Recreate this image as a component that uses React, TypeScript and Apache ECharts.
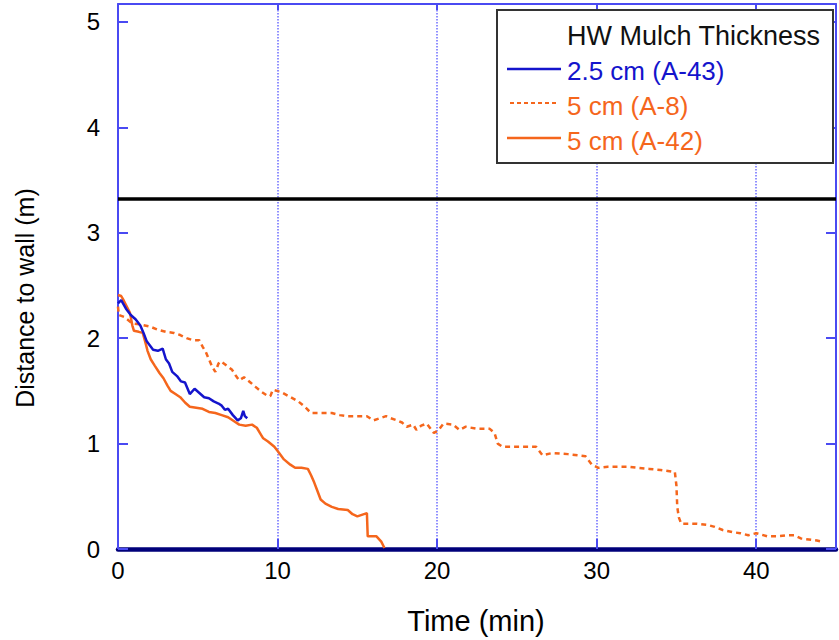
import React, { useEffect, useRef } from "react";
import * as echarts from "echarts";

// ---- Data (time in min, distance to wall in m) ----
const seriesNames = ["2.5 cm (A-43)", "5 cm (A-8)", "5 cm (A-42)"];
const legendTitle = "HW Mulch Thickness";
const xTitle = "Time (min)";
const yTitle = "Distance to wall (m)";
const wallDistance = 3.32;

const a43: [number, number][] = [
  [0, 2.33], [0.2, 2.36], [0.5, 2.28], [0.8, 2.22], [1.1, 2.18], [1.4, 2.12], [1.6, 2.05],
  [1.8, 1.97], [2.0, 1.93], [2.2, 1.89], [2.5, 1.88], [2.8, 1.9], [3.0, 1.8], [3.2, 1.76],
  [3.4, 1.68], [3.7, 1.64], [3.95, 1.59], [4.2, 1.58], [4.5, 1.47], [4.8, 1.52], [5.1, 1.48],
  [5.4, 1.44], [5.7, 1.43], [6.0, 1.4], [6.3, 1.38], [6.5, 1.36], [6.7, 1.32], [6.9, 1.33],
  [7.2, 1.27], [7.5, 1.22], [7.7, 1.24], [7.85, 1.31], [7.95, 1.26], [8.1, 1.24],
];

const a8: [number, number][] = [
  [0, 2.3], [0.05, 2.22], [0.4, 2.2], [0.9, 2.14], [1.4, 2.13], [2.0, 2.11], [2.5, 2.08],
  [3.0, 2.06], [3.5, 2.05], [3.9, 2.03], [4.3, 2.0], [4.7, 1.98], [5.1, 1.98], [5.3, 1.92],
  [5.5, 1.87], [5.7, 1.8], [5.9, 1.73], [6.1, 1.68], [6.3, 1.76], [6.45, 1.78], [6.8, 1.74],
  [7.15, 1.7], [7.4, 1.64], [7.6, 1.6], [7.9, 1.63], [8.3, 1.58], [8.6, 1.54], [9.0, 1.49],
  [9.3, 1.46], [9.55, 1.45], [9.7, 1.51], [10.2, 1.49], [10.7, 1.45], [11.3, 1.4], [11.7, 1.35],
  [12.1, 1.29], [12.8, 1.29], [13.4, 1.29], [13.9, 1.27], [14.4, 1.26], [15.0, 1.26],
  [15.6, 1.26], [16.0, 1.22], [16.4, 1.24], [16.8, 1.26], [17.1, 1.24], [17.5, 1.22],
  [17.8, 1.2], [18.1, 1.16], [18.5, 1.18], [18.7, 1.13], [19.0, 1.17], [19.35, 1.19],
  [19.6, 1.14], [19.8, 1.1], [20.1, 1.13], [20.4, 1.19], [21.0, 1.18], [21.4, 1.13],
  [21.8, 1.16], [22.5, 1.14], [23.3, 1.14], [23.6, 1.1], [23.8, 1.0], [24.1, 0.97],
  [25.0, 0.97], [26.2, 0.97], [26.6, 0.89], [27.2, 0.91], [28.2, 0.9], [29.3, 0.88],
  [29.7, 0.8], [30.1, 0.77], [30.7, 0.78], [31.3, 0.78], [32.0, 0.78], [32.6, 0.77],
  [33.3, 0.76], [34.0, 0.75], [34.9, 0.73], [35.0, 0.6], [35.05, 0.4], [35.15, 0.3],
  [35.3, 0.24], [35.8, 0.24], [36.3, 0.24], [36.9, 0.23], [37.4, 0.21], [37.9, 0.18],
  [38.5, 0.16], [39.0, 0.15], [39.5, 0.13], [40.0, 0.15], [40.7, 0.12], [41.3, 0.12],
  [41.9, 0.13], [42.4, 0.13], [42.8, 0.1], [43.3, 0.09], [43.8, 0.08], [44.1, 0.07],
];

const a42: [number, number][] = [
  [0, 2.41], [0.2, 2.4], [0.35, 2.36], [0.55, 2.3], [0.75, 2.24], [0.9, 2.12], [1.0, 2.07],
  [1.3, 2.06], [1.55, 2.05], [1.7, 1.97], [1.85, 1.88], [2.05, 1.8], [2.3, 1.74], [2.6, 1.67],
  [2.85, 1.62], [3.1, 1.55], [3.3, 1.5], [3.6, 1.47], [3.9, 1.44], [4.2, 1.39], [4.5, 1.35],
  [4.9, 1.34], [5.3, 1.33], [5.7, 1.3], [6.1, 1.29], [6.5, 1.27], [6.9, 1.25], [7.3, 1.21],
  [7.6, 1.18], [8.0, 1.17], [8.4, 1.18], [8.7, 1.15], [8.9, 1.1], [9.1, 1.05], [9.4, 1.02],
  [9.8, 0.97], [10.1, 0.91], [10.4, 0.85], [10.8, 0.8], [11.1, 0.77], [11.5, 0.77],
  [11.9, 0.76], [12.1, 0.7], [12.3, 0.63], [12.5, 0.55], [12.7, 0.47], [13.0, 0.43],
  [13.4, 0.4], [13.8, 0.38], [14.4, 0.37], [14.7, 0.33], [15.0, 0.31], [15.6, 0.34],
  [15.65, 0.12], [16.2, 0.12], [16.5, 0.07], [16.7, 0.01],
];

const xTicks = [0, 10, 20, 30, 40];
const yTicks = [0, 1, 2, 3, 4, 5];

const BLUE = "#1414cc";
const ORANGE = "#f5661c";
const AXIS_BLUE = "#4a4af2";
const FONT = '"Liberation Sans", Arial, sans-serif';

export default function App() {
  const ref = useRef<HTMLDivElement>(null);
  useEffect(() => {
    if (!ref.current) return;
    const chart = echarts.init(ref.current, undefined, { renderer: "svg" });
    const xFmt = (v: number) => (xTicks.includes(v) ? String(v) : "");
    const yFmt = (v: number) => (yTicks.includes(v) ? String(v) : "");
    chart.setOption({
      animation: false,
      backgroundColor: "#ffffff",
      grid: { left: 118, top: 4, width: 725, height: 545, containLabel: false },
      xAxis: [
        {
          type: "value", min: 0, max: 45, interval: 10, position: "bottom",
          axisLine: { show: true, onZero: false, lineStyle: { color: "#00007a", width: 4.5 } },
          axisTick: { show: true, inside: true, length: 10, lineStyle: { color: AXIS_BLUE, width: 2 } },
          axisLabel: { color: "#000", fontSize: 24, fontFamily: FONT, margin: 9, formatter: xFmt },
          splitLine: { show: true, showMinLine: false, showMaxLine: false, lineStyle: { color: "#6c6cff", type: "dotted", width: 1.5 } },
        },
        {
          type: "value", min: 0, max: 45, interval: 10, position: "top",
          axisLine: { show: true, onZero: false, lineStyle: { color: AXIS_BLUE, width: 2 } },
          axisTick: { show: true, inside: true, length: 6, lineStyle: { color: AXIS_BLUE, width: 2 } },
          axisLabel: { show: false },
          splitLine: { show: false },
        },
      ],
      yAxis: [
        {
          type: "value", min: 0, max: 5.17, interval: 1, position: "left",
          axisLine: { show: true, onZero: false, lineStyle: { color: AXIS_BLUE, width: 2 } },
          axisTick: { show: true, inside: true, length: 10, lineStyle: { color: AXIS_BLUE, width: 2 } },
          axisLabel: { color: "#000", fontSize: 24, fontFamily: FONT, margin: 18, formatter: yFmt },
          splitLine: { show: false },
        },
        {
          type: "value", min: 0, max: 5.17, interval: 1, position: "right",
          axisLine: { show: true, onZero: false, lineStyle: { color: AXIS_BLUE, width: 2 } },
          axisTick: { show: true, inside: true, length: 10, lineStyle: { color: AXIS_BLUE, width: 2 } },
          axisLabel: { show: false },
          splitLine: { show: false },
        },
      ],
      series: [
        {
          name: seriesNames[1], type: "line", data: a8, showSymbol: false, z: 3,
          lineStyle: { color: ORANGE, width: 2.5, type: [5, 4] },
          markLine: {
            silent: true, symbol: "none", animation: false,
            label: { show: false },
            lineStyle: { color: "#000", width: 3.5, type: "solid" },
            data: [{ yAxis: wallDistance }],
          },
        },
        {
          name: seriesNames[2], type: "line", data: a42, showSymbol: false, z: 4,
          lineStyle: { color: ORANGE, width: 2.5 },
        },
        {
          name: seriesNames[0], type: "line", data: a43, showSymbol: false, z: 5,
          lineStyle: { color: BLUE, width: 2.5 },
        },
      ],
      graphic: [
        { type: "rect", shape: { x: 497, y: 10, width: 336, height: 153 }, style: { fill: "#fff", stroke: "#333", lineWidth: 2 }, z: 100 },
        { type: "text", x: 567, y: 36, z: 101, style: { text: legendTitle, font: `27px ${FONT}`, fill: "#111", verticalAlign: "middle" } },
        { type: "line", shape: { x1: 507, y1: 69, x2: 561, y2: 69 }, style: { stroke: BLUE, lineWidth: 2.5 }, z: 101 },
        { type: "text", x: 567, y: 71, z: 101, style: { text: seriesNames[0], font: `26px ${FONT}`, fill: BLUE, verticalAlign: "middle" } },
        { type: "line", shape: { x1: 510, y1: 103, x2: 557, y2: 103 }, style: { stroke: ORANGE, lineWidth: 2, lineDash: [4, 3] }, z: 101 },
        { type: "text", x: 567, y: 106, z: 101, style: { text: seriesNames[1], font: `26px ${FONT}`, fill: ORANGE, verticalAlign: "middle" } },
        { type: "line", shape: { x1: 507, y1: 138, x2: 561, y2: 138 }, style: { stroke: ORANGE, lineWidth: 2.5 }, z: 101 },
        { type: "text", x: 567, y: 141, z: 101, style: { text: seriesNames[2], font: `26px ${FONT}`, fill: ORANGE, verticalAlign: "middle" } },
        { type: "text", x: 476, y: 621, z: 101, style: { text: xTitle, font: `29px ${FONT}`, fill: "#000", align: "center", verticalAlign: "middle" } },
        { type: "text", x: 25, y: 298, rotation: Math.PI / 2, z: 101, style: { text: yTitle, font: `25px ${FONT}`, fill: "#000", align: "center", verticalAlign: "middle" } },
      ],
    });
    return () => chart.dispose();
  }, []);
  return (
    <div
      ref={ref}
      style={{ position: "absolute", left: 0, top: 0, width: 839, height: 640, background: "#fff" }}
    />
  );
}
